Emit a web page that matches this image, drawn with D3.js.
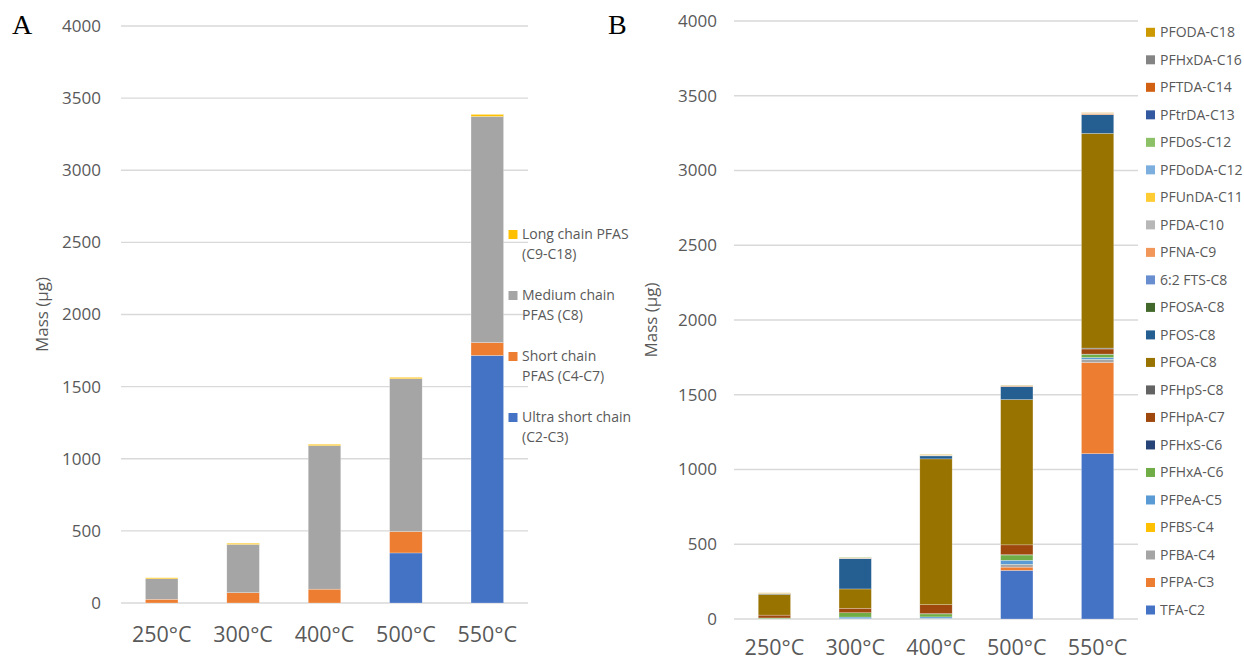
<!DOCTYPE html>
<html>
<head>
<meta charset="utf-8">
<script src="https://cdn.jsdelivr.net/npm/d3@7"></script>
<style>
  html, body { margin: 0; padding: 0; background: #fff; }
  svg { display: block; }
  text { font-family: "Open Sans", "Liberation Sans", sans-serif; fill: #595959; }
</style>
</head>
<body>
<svg id="chart" width="1244" height="660"></svg>
<script>
// ---------- DATA ----------
const temps = ["250°C", "300°C", "400°C", "500°C", "550°C"];
const yTicks = [0, 500, 1000, 1500, 2000, 2500, 3000, 3500, 4000];

// Panel A: chain-length groups (bottom to top)
const groupNames = ["Ultra short chain (C2-C3)", "Short chain PFAS (C4-C7)", "Medium chain PFAS (C8)", "Long chain PFAS (C9-C18)"];
const groupLegendLines = [["Ultra short chain", "(C2-C3)"], ["Short chain", "PFAS (C4-C7)"], ["Medium chain", "PFAS (C8)"], ["Long chain PFAS", "(C9-C18)"]];
const groupColors = ["#4472C4", "#ED7D31", "#A5A5A5", "#FFC000"];
const ultraShort  = [0, 0, 0, 347, 1716];
const shortChain  = [26, 72, 96, 149, 90];
const mediumChain = [142, 334, 995, 1059, 1567];
const longChain   = [7, 8, 9, 9, 14];

// Panel B: individual compounds (bottom to top)
const compounds = ["TFA-C2", "PFPA-C3", "PFBA-C4", "PFBS-C4", "PFPeA-C5", "PFHxA-C6", "PFHxS-C6", "PFHpA-C7",
  "PFHpS-C8", "PFOA-C8", "PFOS-C8", "PFOSA-C8", "6:2 FTS-C8", "PFNA-C9", "PFDA-C10", "PFUnDA-C11",
  "PFDoDA-C12", "PFDoS-C12", "PFtrDA-C13", "PFTDA-C14", "PFHxDA-C16", "PFODA-C18"];
const compoundColors = ["#4472C4", "#ED7D31", "#A5A5A5", "#FFC000", "#5B9BD5", "#70AD47", "#264478", "#9E480E",
  "#636363", "#997300", "#255E91", "#43682B", "#698ED0", "#F1975A", "#B7B7B7", "#FFCD33",
  "#7CAFDD", "#8CC168", "#335AA1", "#D26012", "#848484", "#CC9A00"];
const TFA    = [0, 0, 0, 325, 1106];
const PFPA   = [0, 0, 0, 22, 610];
const PFBA   = [0, 2, 4, 16, 18];
const PFBS   = [0, 0, 0, 2, 2];
const PFPeA  = [2, 11, 10, 28, 13];
const PFHxA  = [5, 29, 20, 35, 22];
const PFHxS  = [0, 0, 2, 2, 1];
const PFHpA  = [19, 30, 60, 66, 34];
const PFHpS  = [0, 0, 0, 0, 6];
const PFOA   = [139, 129, 975, 972, 1436];
const PFOS   = [3, 203, 20, 87, 125];
const PFOSA  = [0, 1, 0, 0, 0];
const FTS62  = [0, 1, 0, 0, 0];
const PFNA   = [2, 2, 3, 4, 6];
const PFDA   = [1, 1, 2, 2, 3];
const PFUnDA = [1, 0, 1, 0, 1];
const PFDoDA = [0, 0, 0, 0, 0];
const PFDoS  = [0, 4, 0, 1, 0];
const PFtrDA = [0, 0, 0, 0, 0];
const PFTDA  = [0, 0, 0, 0, 2];
const PFHxDA = [0, 0, 0, 0, 0];
const PFODA  = [3, 1, 3, 2, 2];

const groupSeries = [ultraShort, shortChain, mediumChain, longChain];
const compoundSeries = [TFA, PFPA, PFBA, PFBS, PFPeA, PFHxA, PFHxS, PFHpA, PFHpS, PFOA, PFOS, PFOSA, FTS62,
  PFNA, PFDA, PFUnDA, PFDoDA, PFDoS, PFtrDA, PFTDA, PFHxDA, PFODA];

// ---------- DRAW ----------
const svg = d3.select("#chart");

function panel(cfg) {
  const { keys, series, colors, left, right, top, bottom, tickRight, yLabelX, letter, letterX, xLabelY } = cfg;
  const rows = temps.map((t, i) => {
    const r = { temp: t };
    keys.forEach((k, j) => r[k] = series[j][i]);
    return r;
  });
  const x = d3.scaleBand().domain(temps).range([left, right]).paddingInner(0.6).paddingOuter(0.3);
  const y = d3.scaleLinear().domain([0, 4000]).range([bottom, top]);

  const g = svg.append("g");
  // gridlines
  g.append("g").selectAll("line").data(yTicks).join("line")
    .attr("x1", left).attr("x2", right)
    .attr("y1", d => y(d)).attr("y2", d => y(d))
    .attr("stroke", "#D9D9D9").attr("stroke-width", 1.4);

  // y axis labels
  const yAxis = d3.axisLeft(y).tickValues(yTicks).tickSize(0).tickPadding(0).tickFormat(d3.format("d"));
  const ya = g.append("g").attr("transform", `translate(${tickRight},0)`).call(yAxis);
  ya.select(".domain").remove();
  ya.selectAll("text").attr("font-size", 17).attr("fill", "#595959").style("font-family", "'Open Sans', sans-serif");

  // x axis labels
  const xAxis = d3.axisBottom(x).tickSize(0).tickPadding(0);
  const xa = g.append("g").attr("transform", `translate(0,${xLabelY})`).call(xAxis);
  xa.select(".domain").remove();
  xa.selectAll("text").attr("font-size", 21.5).attr("fill", "#595959").attr("dy", "0.35em").attr("y", 0)
    .style("font-family", "'Open Sans', sans-serif");

  // bars
  const stacked = d3.stack().keys(keys)(rows);
  g.append("g").selectAll("g").data(stacked).join("g")
    .attr("fill", (d, i) => colors[i])
    .selectAll("rect").data(d => d).join("rect")
    .attr("x", d => x(d.data.temp))
    .attr("width", x.bandwidth())
    .attr("y", d => y(d[1]))
    .attr("height", d => Math.max(0, y(d[0]) - y(d[1])))
    .attr("stroke", "#ffffff").attr("stroke-width", 0.5).attr("stroke-opacity", 0.5);

  // y axis title
  g.append("text")
    .attr("transform", `translate(${yLabelX},${(top + bottom) / 2}) rotate(-90)`)
    .attr("text-anchor", "middle").attr("dy", "0.35em")
    .attr("font-size", 17).text("Mass (µg)");

  // panel letter
  svg.append("text").attr("x", letterX).attr("y", 34)
    .style("font-family", "'Liberation Serif', 'Times New Roman', serif")
    .style("fill", "#000").attr("font-size", 28).text(letter);
}

panel({ keys: groupNames, series: groupSeries, colors: groupColors,
  left: 121, right: 528, top: 26, bottom: 603, tickRight: 101, yLabelX: 42,
  letter: "A", letterX: 12, xLabelY: 634 });

panel({ keys: compounds, series: compoundSeries, colors: compoundColors,
  left: 734, right: 1138, top: 21, bottom: 619, tickRight: 717, yLabelX: 651,
  letter: "B", letterX: 608, xLabelY: 647 });

// Legend A (top entry = top series)
const legA = svg.append("g");
const legAOrder = d3.range(groupNames.length).reverse();
legAOrder.forEach((idx, k) => {
  const cy = 234.5 + k * 61;
  legA.append("rect").attr("x", 508.5).attr("y", cy - 4.5).attr("width", 9).attr("height", 9).attr("fill", groupColors[idx]);
  groupLegendLines[idx].forEach((line, li) => {
    legA.append("text").attr("x", 522).attr("y", cy + li * 19.5).attr("dy", "0.35em")
      .attr("font-size", 14).text(line);
  });
});

// Legend B
const legB = svg.append("g");
const legBOrder = d3.range(compounds.length).reverse();
legBOrder.forEach((idx, k) => {
  const cy = 32.3 + k * 27.51;
  legB.append("rect").attr("x", 1146).attr("y", cy - 4.5).attr("width", 9).attr("height", 9).attr("fill", compoundColors[idx]);
  legB.append("text").attr("x", 1160).attr("y", cy).attr("dy", "0.35em").attr("font-size", 14).text(compounds[idx]);
});
</script>
</body>
</html>
